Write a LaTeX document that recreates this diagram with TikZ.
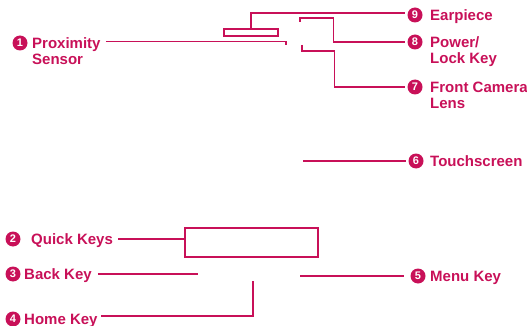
\documentclass[tikz,border=0pt]{standalone}
\usepackage{fontspec}
\setmainfont{Liberation Sans}[BoldFont={Liberation Sans Bold}]
\usepackage{tikz}
\definecolor{lgred}{RGB}{200,16,88}

\begin{document}
\begin{tikzpicture}[x=1pt,y=-1pt,
  ln/.style={lgred, line width=1.3pt},
  num/.style={circle, fill=lgred, text=white, inner sep=0pt, minimum size=15pt, font=\bfseries\fontsize{11}{11}\selectfont},
  lbl/.style={lgred, inner sep=0pt, anchor=base west, align=left, font=\bfseries\fontsize{15}{16.5}\selectfont},
  part/.style={draw=lgred, line width=1.3pt, inner sep=0pt}]
\useasboundingbox (0,0) rectangle (527,326);

\node[part, minimum width=54pt, minimum height=7pt] (earbox) at (251,32.5) {};
\node[part, minimum width=133pt, minimum height=29pt] (qbox) at (251.5,242.5) {};

\coordinate (prox) at (286,45);
\coordinate (power) at (300,22);
\coordinate (cam) at (302,45);
\coordinate (touch) at (303,161);
\coordinate (back) at (198,274);
\coordinate (menu) at (300,276);
\coordinate (home) at (253,281);

% left side (base of two-line labels is the last line)
\node[num] (n1) at (20,43) {1};
\node[lbl] (t1) at (32,64.8) {Proximity\\Sensor};
\node[num] (n2) at (13,239) {2};
\node[lbl] (t2) at (31,244.3) {Quick Keys};
\node[num] (n3) at (13,274) {3};
\node[lbl] (t3) at (24,279.3) {Back Key};
\node[num] (n4) at (13,319) {4};
\node[lbl] (t4) at (24,324.3) {Home Key};

% right side
\node[num] (n9) at (415,15) {9};
\node[lbl] (t9) at (430,20.3) {Earpiece};
\node[num] (n8) at (415,42) {8};
\node[lbl] (t8) at (430,63.8) {Power/\\Lock Key};
\node[num] (n7) at (415,87) {7};
\node[lbl] (t7) at (430,108.8) {Front Camera\\Lens};
\node[num] (n6) at (416,161) {6};
\node[lbl] (t6) at (430,166.3) {Touchscreen};
\node[num] (n5) at (418,276) {5};
\node[lbl] (t5) at (430,281.3) {Menu Key};

\draw[ln] ([xshift=5pt,yshift=1.5pt]t1.east |- n1) -| (prox);
\draw[ln] ([xshift=5pt]t2.east |- n2) -- (n2 -| qbox.west);
\draw[ln] ([xshift=6pt]t3.east |- n3) -- (back);
\draw[ln] (home) |- ([xshift=3pt,yshift=3pt]t4.east |- n4);

\draw[ln, shorten >=2.5pt] (earbox.north) |- ([yshift=2pt]n9.west);
\draw[ln, shorten >=2.5pt] (power) -- ++(0,-4) -| ([xshift=-74pt]n8.west) -- (n8.west);
\draw[ln, shorten >=2.5pt] (cam) -- ++(0,6) -| ([xshift=-73pt]n7.west) -- (n7.west);
\draw[ln, shorten >=2.5pt] (touch) -- (n6.west);
\draw[ln, shorten >=6pt] (menu) -- (n5.west);

\end{tikzpicture}
\end{document}
